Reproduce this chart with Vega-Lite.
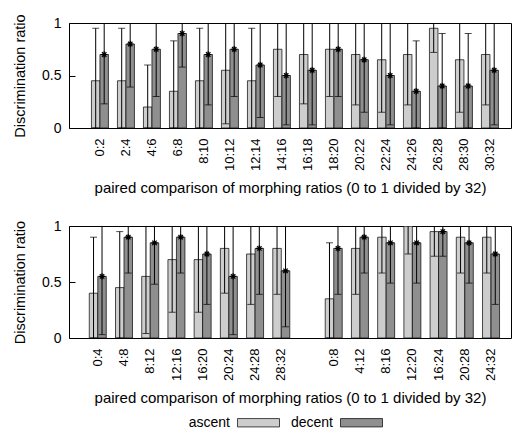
{
  "$schema": "https://vega.github.io/schema/vega-lite/v6.json",
  "padding": {"left": 12, "top": 13, "right": 0, "bottom": 0},
  "spacing": 21,
  "config": {
    "font": "Liberation Sans",
    "view": {"stroke": "black", "strokeWidth": 1},
    "axis": {"labelFontSize": 13, "titleFontWeight": "normal", "labelColor": "black", "titleColor": "black", "domain": false, "grid": false},
    "axisX": {"titleFontSize": 15},
    "axisY": {"labelFontSize": 14, "titleFontSize": 14.5},
    "legend": {"labelFontSize": 14, "labelColor": "black"}
  },
  "datasets": {
    "top": [
      {"cat": "0:2", "series": "ascent", "mean": 0.45, "low": 0, "high": 0.95},
      {"cat": "0:2", "series": "decent", "mean": 0.70, "low": 0.23, "high": 1},
      {"cat": "2:4", "series": "ascent", "mean": 0.45, "low": 0, "high": 0.95},
      {"cat": "2:4", "series": "decent", "mean": 0.80, "low": 0.39, "high": 1},
      {"cat": "4:6", "series": "ascent", "mean": 0.20, "low": 0, "high": 0.60},
      {"cat": "4:6", "series": "decent", "mean": 0.75, "low": 0.30, "high": 1},
      {"cat": "6:8", "series": "ascent", "mean": 0.35, "low": 0, "high": 0.83},
      {"cat": "6:8", "series": "decent", "mean": 0.90, "low": 0.58, "high": 1},
      {"cat": "8:10", "series": "ascent", "mean": 0.45, "low": 0, "high": 0.95},
      {"cat": "8:10", "series": "decent", "mean": 0.70, "low": 0.22, "high": 1},
      {"cat": "10:12", "series": "ascent", "mean": 0.55, "low": 0.04, "high": 1},
      {"cat": "10:12", "series": "decent", "mean": 0.75, "low": 0.30, "high": 1},
      {"cat": "12:14", "series": "ascent", "mean": 0.45, "low": 0, "high": 0.95},
      {"cat": "12:14", "series": "decent", "mean": 0.60, "low": 0.10, "high": 1},
      {"cat": "14:16", "series": "ascent", "mean": 0.75, "low": 0.30, "high": 1},
      {"cat": "14:16", "series": "decent", "mean": 0.50, "low": 0.03, "high": 1},
      {"cat": "16:18", "series": "ascent", "mean": 0.70, "low": 0.23, "high": 1},
      {"cat": "16:18", "series": "decent", "mean": 0.55, "low": 0.03, "high": 1},
      {"cat": "18:20", "series": "ascent", "mean": 0.75, "low": 0.30, "high": 1},
      {"cat": "18:20", "series": "decent", "mean": 0.75, "low": 0.30, "high": 1},
      {"cat": "20:22", "series": "ascent", "mean": 0.70, "low": 0.22, "high": 1},
      {"cat": "20:22", "series": "decent", "mean": 0.65, "low": 0.15, "high": 1},
      {"cat": "22:24", "series": "ascent", "mean": 0.65, "low": 0.15, "high": 1},
      {"cat": "22:24", "series": "decent", "mean": 0.50, "low": 0.03, "high": 1},
      {"cat": "24:26", "series": "ascent", "mean": 0.70, "low": 0.22, "high": 1},
      {"cat": "24:26", "series": "decent", "mean": 0.35, "low": 0, "high": 0.83},
      {"cat": "26:28", "series": "ascent", "mean": 0.95, "low": 0.72, "high": 1},
      {"cat": "26:28", "series": "decent", "mean": 0.40, "low": 0, "high": 0.90},
      {"cat": "28:30", "series": "ascent", "mean": 0.65, "low": 0.15, "high": 1},
      {"cat": "28:30", "series": "decent", "mean": 0.40, "low": 0, "high": 0.90},
      {"cat": "30:32", "series": "ascent", "mean": 0.70, "low": 0.22, "high": 1},
      {"cat": "30:32", "series": "decent", "mean": 0.55, "low": 0.03, "high": 1}
    ],
    "bottom": [
      {"cat": "0:4", "series": "ascent", "mean": 0.40, "low": 0, "high": 0.90},
      {"cat": "0:4", "series": "decent", "mean": 0.55, "low": 0.03, "high": 1},
      {"cat": "4:8", "series": "ascent", "mean": 0.45, "low": 0, "high": 0.95},
      {"cat": "4:8", "series": "decent", "mean": 0.90, "low": 0.58, "high": 1},
      {"cat": "8:12", "series": "ascent", "mean": 0.55, "low": 0.04, "high": 1},
      {"cat": "8:12", "series": "decent", "mean": 0.85, "low": 0.48, "high": 1},
      {"cat": "12:16", "series": "ascent", "mean": 0.70, "low": 0.23, "high": 1},
      {"cat": "12:16", "series": "decent", "mean": 0.90, "low": 0.58, "high": 1},
      {"cat": "16:20", "series": "ascent", "mean": 0.70, "low": 0.23, "high": 1},
      {"cat": "16:20", "series": "decent", "mean": 0.75, "low": 0.30, "high": 1},
      {"cat": "20:24", "series": "ascent", "mean": 0.80, "low": 0.40, "high": 1},
      {"cat": "20:24", "series": "decent", "mean": 0.55, "low": 0.03, "high": 1},
      {"cat": "24:28", "series": "ascent", "mean": 0.75, "low": 0.30, "high": 1},
      {"cat": "24:28", "series": "decent", "mean": 0.80, "low": 0.39, "high": 1},
      {"cat": "28:32", "series": "ascent", "mean": 0.80, "low": 0.39, "high": 1},
      {"cat": "28:32", "series": "decent", "mean": 0.60, "low": 0.10, "high": 1},
      {"cat": "0:8", "series": "ascent", "mean": 0.35, "low": 0, "high": 0.85},
      {"cat": "0:8", "series": "decent", "mean": 0.80, "low": 0.39, "high": 1},
      {"cat": "4:12", "series": "ascent", "mean": 0.80, "low": 0.39, "high": 1},
      {"cat": "4:12", "series": "decent", "mean": 0.90, "low": 0.58, "high": 1},
      {"cat": "8:16", "series": "ascent", "mean": 0.90, "low": 0.58, "high": 1},
      {"cat": "8:16", "series": "decent", "mean": 0.85, "low": 0.49, "high": 1},
      {"cat": "12:20", "series": "ascent", "mean": 1.0, "low": 0.75, "high": 1},
      {"cat": "12:20", "series": "decent", "mean": 0.85, "low": 0.49, "high": 1},
      {"cat": "16:24", "series": "ascent", "mean": 0.95, "low": 0.73, "high": 1},
      {"cat": "16:24", "series": "decent", "mean": 0.95, "low": 0.73, "high": 1},
      {"cat": "20:28", "series": "ascent", "mean": 0.90, "low": 0.58, "high": 1},
      {"cat": "20:28", "series": "decent", "mean": 0.85, "low": 0.49, "high": 1},
      {"cat": "24:32", "series": "ascent", "mean": 0.90, "low": 0.58, "high": 1},
      {"cat": "24:32", "series": "decent", "mean": 0.75, "low": 0.30, "high": 1}
    ]
  },
  "vconcat": [
    {
      "width": 442,
      "height": 105,
      "data": {"name": "top"},
      "encoding": {
        "x": {"field": "cat", "type": "nominal", "sort": null,
              "scale": {"domain": ["0:2","2:4","4:6","6:8","8:10","10:12","12:14","14:16","16:18","18:20","20:22","22:24","24:26","26:28","28:30","30:32"], "paddingInner": 0, "paddingOuter": 0.5, "align": 0.69},
              "axis": {"title": "paired comparison of morphing ratios (0 to 1 divided by 32)", "labelAngle": -90, "ticks": false, "labelPadding": 10, "titlePadding": 10}},
        "xOffset": {"field": "series", "type": "nominal", "scale": {"domain": ["ascent", "decent"], "paddingInner": 0, "paddingOuter": 0.53}}
      },
      "layer": [
        {"mark": {"type": "bar", "stroke": "black", "strokeWidth": 0.7, "clip": true},
         "encoding": {
           "y": {"field": "mean", "type": "quantitative", "scale": {"domain": [0, 1], "nice": false},
                 "axis": {"title": "Discrimination ratio", "values": [0, 0.5, 1], "format": "~g", "tickSize": -6, "tickColor": "black", "labelPadding": 14, "titlePadding": 14}},
           "fill": {"field": "series", "type": "nominal", "scale": {"domain": ["ascent", "decent"], "range": ["#cdcdcd", "#8f8f8f"]},
                    "legend": {"title": null, "orient": "none", "legendX": 168, "legendY": 378, "direction": "horizontal", "symbolType": "M-1,-0.2H1V0.2H-1Z", "symbolSize": 1764, "symbolStrokeColor": "black", "symbolStrokeWidth": 0.7, "labelAlign": "right", "labelOffset": -50, "columnPadding": 9}}
         }},
        {"mark": {"type": "rule", "color": "black", "strokeWidth": 1, "clip": true},
         "encoding": {"y": {"field": "low", "type": "quantitative"}, "y2": {"field": "high"}}},
        {"mark": {"type": "tick", "color": "black", "thickness": 1, "size": 7, "clip": true},
         "encoding": {"y": {"field": "high", "type": "quantitative"}}},
        {"mark": {"type": "tick", "color": "black", "thickness": 1, "size": 7, "clip": true},
         "encoding": {"y": {"field": "low", "type": "quantitative"}}},
        {"transform": [{"filter": "datum.series == 'decent'"}],
         "mark": {"type": "point", "shape": "M-1,0L1,0M0,-1L0,1M-0.7,-0.7L0.7,0.7M-0.7,0.7L0.7,-0.7", "filled": false, "stroke": "black", "strokeWidth": 1.2, "size": 40, "opacity": 1},
         "encoding": {"y": {"field": "mean", "type": "quantitative"}}}
      ]
    },
    {
      "width": 442,
      "height": 112,
      "data": {"name": "bottom"},
      "encoding": {
        "x": {"field": "cat", "type": "nominal", "sort": null,
              "scale": {"domain": ["0:4","4:8","8:12","12:16","16:20","20:24","24:28","28:32"," ","0:8","4:12","8:16","12:20","16:24","20:28","24:32"], "paddingInner": 0, "paddingOuter": 0.43, "align": 0.7},
              "axis": {"title": "paired comparison of morphing ratios (0 to 1 divided by 32)", "labelAngle": -90, "ticks": false, "labelPadding": 10, "titlePadding": 10}},
        "xOffset": {"field": "series", "type": "nominal", "scale": {"domain": ["ascent", "decent"], "paddingInner": 0, "paddingOuter": 0.53}}
      },
      "layer": [
        {"mark": {"type": "bar", "stroke": "black", "strokeWidth": 0.7, "clip": true},
         "encoding": {
           "y": {"field": "mean", "type": "quantitative", "scale": {"domain": [0, 1], "nice": false},
                 "axis": {"title": "Discrimination ratio", "values": [0, 0.5, 1], "format": "~g", "tickSize": -6, "tickColor": "black", "labelPadding": 14, "titlePadding": 14}},
           "fill": {"field": "series", "type": "nominal", "scale": {"domain": ["ascent", "decent"], "range": ["#cdcdcd", "#8f8f8f"]}}
         }},
        {"mark": {"type": "rule", "color": "black", "strokeWidth": 1, "clip": true},
         "encoding": {"y": {"field": "low", "type": "quantitative"}, "y2": {"field": "high"}}},
        {"mark": {"type": "tick", "color": "black", "thickness": 1, "size": 7, "clip": true},
         "encoding": {"y": {"field": "high", "type": "quantitative"}}},
        {"mark": {"type": "tick", "color": "black", "thickness": 1, "size": 7, "clip": true},
         "encoding": {"y": {"field": "low", "type": "quantitative"}}},
        {"transform": [{"filter": "datum.series == 'decent'"}],
         "mark": {"type": "point", "shape": "M-1,0L1,0M0,-1L0,1M-0.7,-0.7L0.7,0.7M-0.7,0.7L0.7,-0.7", "filled": false, "stroke": "black", "strokeWidth": 1.2, "size": 40, "opacity": 1},
         "encoding": {"y": {"field": "mean", "type": "quantitative"}}}
      ]
    }
  ]
}
